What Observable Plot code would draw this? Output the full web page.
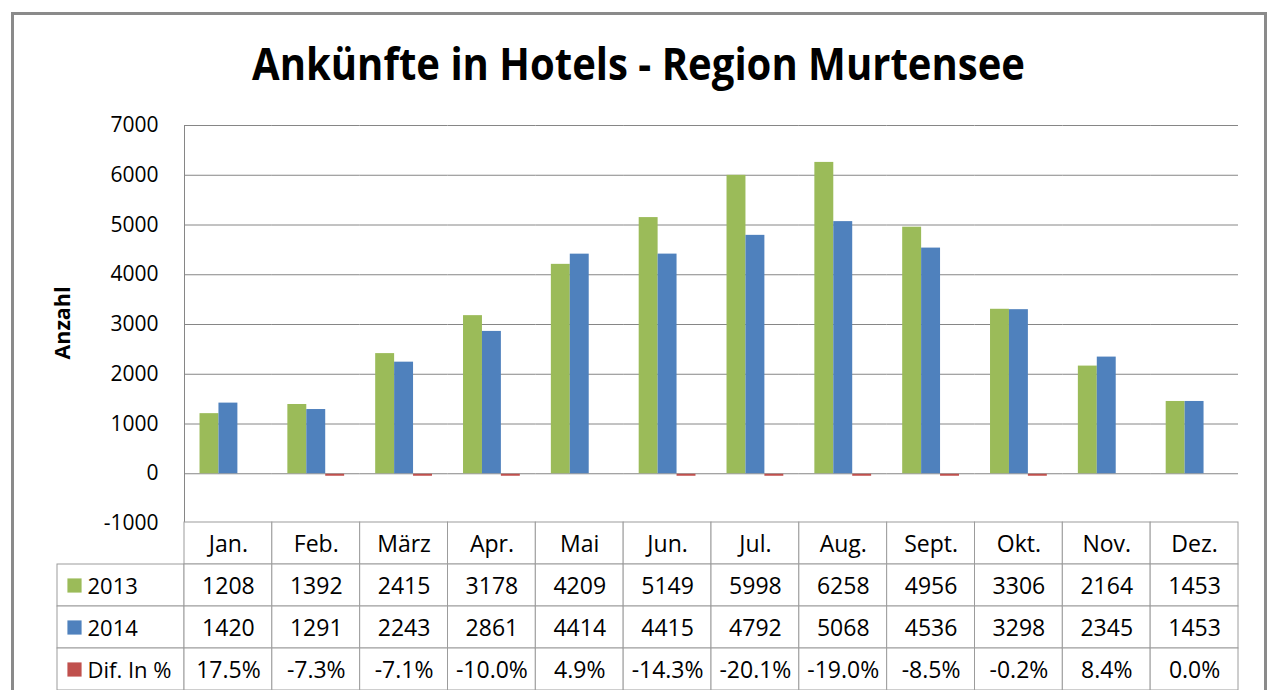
<!DOCTYPE html>
<html>
<head>
<meta charset="utf-8">
<script src="https://cdn.jsdelivr.net/npm/d3@7"></script>
<script src="https://cdn.jsdelivr.net/npm/@observablehq/plot@0.6"></script>
<style>
  html, body { margin: 0; padding: 0; background: #fff; overflow: hidden; }
  #wrap { position: relative; width: 1268px; height: 690px; overflow: hidden; font-family: "Open Sans", sans-serif; color: #000; }
  #border { position: absolute; left: 11px; top: 12px; width: 1256px; height: 720px; border: 3px solid #8a8a8a; box-sizing: border-box; }
  .layer { position: absolute; }
  .layer svg { overflow: visible; }
</style>
</head>
<body>
<div id="wrap">
  <div id="border"></div>
  <div id="main" class="layer" style="left:0;top:0"></div>
  <div id="legend" class="layer" style="left:57px;top:522px"></div>
  <div id="table" class="layer" style="left:0;top:522px"></div>
  <svg id="texts" class="layer" style="left:0;top:0;pointer-events:none" width="1268" height="690">
    <text x="638.5" y="80" text-anchor="middle" font-family="Open Sans" font-weight="700" font-size="45" textLength="773" lengthAdjust="spacingAndGlyphs" fill="#000">Ankünfte in Hotels - Region Murtensee</text>
    <text transform="translate(70,323) rotate(-90)" text-anchor="middle" font-family="Open Sans" font-weight="700" font-size="22" textLength="73" lengthAdjust="spacingAndGlyphs" fill="#000">Anzahl</text>
  </svg>
</div>
<script>
const months = ["Jan.", "Feb.", "März", "Apr.", "Mai", "Jun.", "Jul.", "Aug.", "Sept.", "Okt.", "Nov.", "Dez."];
const arrivals2013 = [1208, 1392, 2415, 3178, 4209, 5149, 5998, 6258, 4956, 3306, 2164, 1453];
const arrivals2014 = [1420, 1291, 2243, 2861, 4414, 4415, 4792, 5068, 4536, 3298, 2345, 1453];
const difPercent = [17.5, -7.3, -7.1, -10.0, 4.9, -14.3, -20.1, -19.0, -8.5, -0.2, 8.4, 0.0];
const seriesNames = ["2013", "2014", "Dif. In %"];
const seriesColors = ["#9BBB59", "#4F81BD", "#C0504D"];
const yTicks = [-1000, 0, 1000, 2000, 3000, 4000, 5000, 6000, 7000];
const rowKeys = ["header", "2013", "2014", "Dif. In %"];

const gridColor = "#868686";
const tableColor = "#9c9c9c";

const long = months.flatMap((m, i) => [
  {month: m, series: "2013", value: arrivals2013[i]},
  {month: m, series: "2014", value: arrivals2014[i]},
  {month: m, series: "Dif. In %", value: difPercent[i] / 100}
]);

const main = Plot.plot({
  width: 1268, height: 533,
  marginTop: 125, marginBottom: 10, marginLeft: 184, marginRight: 30,
  style: {background: "transparent", overflow: "visible", fontFamily: "Open Sans", color: "#000"},
  fx: {domain: months, paddingInner: 0, paddingOuter: 0, round: false, axis: null, label: null},
  x: {domain: seriesNames, paddingInner: 0, paddingOuter: 0.82, round: false, axis: null},
  y: {domain: [-1000, 7000], axis: null, label: null},
  color: {domain: seriesNames, range: seriesColors},
  marks: [
    Plot.gridY(yTicks, {stroke: gridColor, strokeOpacity: 1}),
    Plot.axisY(yTicks, {tickSize: 0, tickPadding: 26, tickFormat: d => String(d), fontSize: 21, label: null}),
    Plot.frame({anchor: "left", stroke: gridColor, facetAnchor: "left"}),
    Plot.barY(long.filter(d => d.series !== "Dif. In %"), {fx: "month", x: "series", y: "value", fill: "series"}),
    Plot.tickY(long.filter(d => d.series === "Dif. In %" && d.value < 0), {fx: "month", x: "series", y: "value", stroke: "series", strokeWidth: 2, dy: 1})
  ]
});
document.getElementById("main").appendChild(main);

const tableCells = months.flatMap((m, i) => [
  {month: m, row: "header", text: m},
  {month: m, row: "2013", text: String(arrivals2013[i])},
  {month: m, row: "2014", text: String(arrivals2014[i])},
  {month: m, row: "Dif. In %", text: difPercent[i].toFixed(1) + "%"}
]);

const table = Plot.plot({
  width: 1268, height: 168,
  marginTop: 0, marginBottom: 0, marginLeft: 184, marginRight: 30,
  style: {background: "transparent", overflow: "visible", fontFamily: "Open Sans", color: "#000"},
  x: {type: "band", domain: months, padding: 0, round: false, axis: null},
  y: {type: "band", domain: rowKeys, padding: 0, round: false, axis: null},
  marks: [
    Plot.cell(tableCells, {x: "month", y: "row", fill: "white", stroke: tableColor, inset: 0}),
    Plot.text(tableCells, {x: "month", y: "row", text: "text", fontSize: 23, dy: 1, fill: "#000"})
  ]
});
document.getElementById("table").appendChild(table);

const legendRows = seriesNames.map(s => ({row: s}));
const legend = Plot.plot({
  width: 127, height: 168,
  marginTop: 0, marginBottom: 0, marginLeft: 0, marginRight: 0,
  style: {background: "transparent", overflow: "visible", fontFamily: "Open Sans", color: "#000"},
  y: {type: "band", domain: rowKeys, padding: 0, round: false, axis: null},
  color: {domain: seriesNames, range: seriesColors},
  marks: [
    Plot.cell(legendRows, {y: "row", fill: "white", stroke: tableColor, inset: 0}),
    Plot.dot(legendRows, {y: "row", frameAnchor: "left", dx: 17, symbol: "square", r: 8, fill: "row", stroke: null}),
    Plot.text(legendRows, {y: "row", text: "row", frameAnchor: "left", dx: 30, textAnchor: "start", fontSize: 22, dy: 1, fill: "#000"})
  ]
});
document.getElementById("legend").appendChild(legend);
</script>
</body>
</html>
